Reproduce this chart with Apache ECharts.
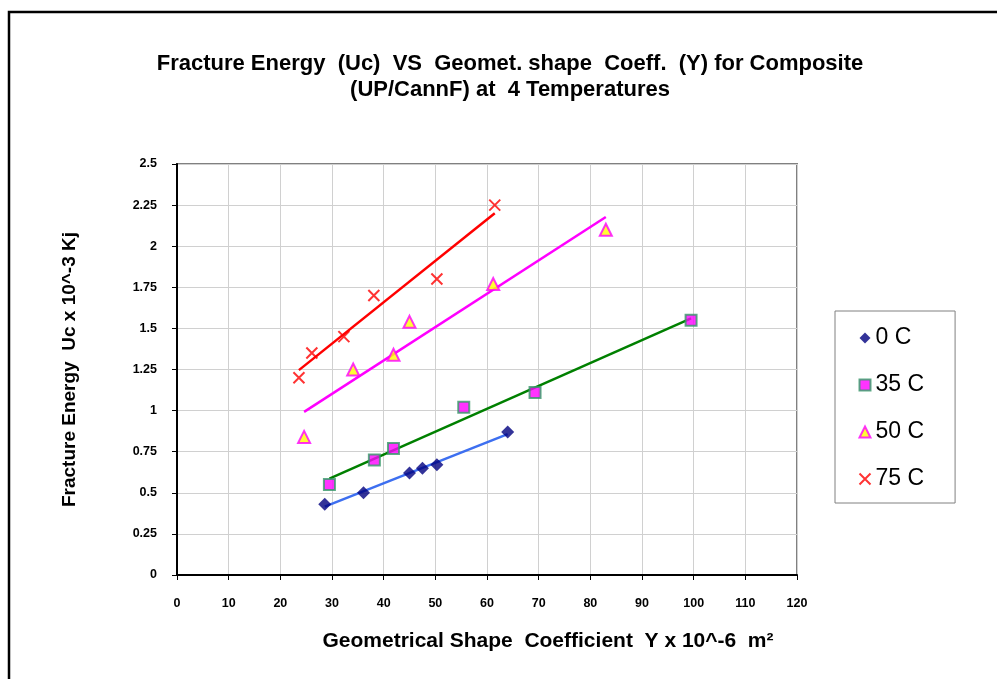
<!DOCTYPE html>
<html>
<head>
<meta charset="UTF-8">
<title>Fracture Energy vs Geometrical Shape Coefficient</title>
<script src="https://cdn.jsdelivr.net/npm/echarts@6/dist/echarts.min.js"></script>
<style>
  html, body { margin: 0; padding: 0; background: #fff; }
  #container { width: 997px; height: 679px; }
</style>
</head>
<body>
<div id="container"></div>
<script>
// data: x = Y (10^-6 m2), y = Uc (10^-3 Kj)
var names = ['0 C', '35 C', '50 C', '75 C'];
var x0 = [28.6, 36.1, 45.0, 47.5, 50.3, 64.0];
var y0 = [0.43, 0.50, 0.62, 0.65, 0.67, 0.87];
var x35 = [29.5, 38.2, 41.9, 55.5, 69.3, 99.5];
var y35 = [0.55, 0.70, 0.77, 1.02, 1.11, 1.55];
var x50 = [24.6, 34.1, 41.9, 45.0, 61.2, 83.0];
var y50 = [0.84, 1.25, 1.34, 1.54, 1.77, 2.10];
var x75 = [23.6, 26.1, 32.3, 38.1, 50.3, 61.5];
var y75 = [1.20, 1.35, 1.45, 1.70, 1.80, 2.25];
var xTicks = [0, 120, 10];
var yTicks = [0, 2.5, 0.25];

var font = 'Arial, "Liberation Sans", sans-serif';

function pairs(xs, ys) {
  return xs.map(function (x, i) { return [x, ys[i]]; });
}

// linear trendline over the range of the points
function trend(xs, ys) {
  var n = xs.length, sx = 0, sy = 0, sxx = 0, sxy = 0;
  for (var i = 0; i < n; i++) {
    sx += xs[i]; sy += ys[i]; sxx += xs[i] * xs[i]; sxy += xs[i] * ys[i];
  }
  var b = (n * sxy - sx * sy) / (n * sxx - sx * sx);
  var a = (sy - b * sx) / n;
  var lo = Math.min.apply(null, xs), hi = Math.max.apply(null, xs);
  return [[lo, a + b * lo], [hi, a + b * hi]];
}

function lineSeries(xs, ys, color) {
  return {
    type: 'line',
    data: trend(xs, ys),
    showSymbol: false,
    symbol: 'none',
    lineStyle: { color: color, width: 2.5 },
    silent: true,
    z: 2
  };
}

var cross = 'path://M0,0L10,10M10,0L0,10';

var myChart = echarts.init(document.getElementById('container'));
var option = {
  backgroundColor: '#fff',
  animation: false,
  title: {
    text: 'Fracture Energy  (Uc)  VS  Geomet. shape  Coeff.  (Y) for Composite\n(UP/CannF) at  4 Temperatures',
    left: 505,
    top: 46,
    textAlign: 'center',
    textStyle: { fontFamily: font, fontSize: 22, fontWeight: 'bold', color: '#000', lineHeight: 26 }
  },
  graphic: [{
    type: 'rect',
    shape: { x: 9, y: 12, width: 1200, height: 1000 },
    style: { fill: 'none', stroke: '#000', lineWidth: 2.5 },
    silent: true
  }],
  legend: {
    orient: 'vertical',
    left: 835,
    top: 311,
    data: names,
    backgroundColor: '#fff',
    borderColor: '#808080',
    borderWidth: 1,
    padding: [15, 31, 12, 22],
    itemGap: 23,
    itemWidth: 11,
    itemHeight: 11,
    textStyle: { fontFamily: font, fontSize: 23, color: '#000', lineHeight: 24 }
  },
  grid: {
    left: 177, right: 200, top: 164, bottom: 104,
    show: true,
    borderColor: '#808080',
    borderWidth: 2
  },
  xAxis: {
    type: 'value',
    min: xTicks[0], max: xTicks[1], interval: xTicks[2],
    name: 'Geometrical Shape  Coefficient  Y x 10^-6  m\u00b2',
    nameLocation: 'middle',
    nameGap: 56,
    nameTextStyle: { fontFamily: font, fontSize: 21, fontWeight: 'bold', color: '#000', padding: [0, 0, 0, 122] },
    axisLine: { show: true, onZero: false, lineStyle: { color: '#000', width: 2 } },
    axisTick: { show: true, length: 5, lineStyle: { color: '#000' } },
    axisLabel: { margin: 22, fontFamily: font, fontSize: 12.5, fontWeight: 'bold', color: '#000' },
    splitLine: { show: true, lineStyle: { color: '#d0d0d0', width: 1 } }
  },
  yAxis: {
    type: 'value',
    min: yTicks[0], max: yTicks[1], interval: yTicks[2],
    name: 'Fracture Energy  Uc x 10^-3 Kj',
    nameLocation: 'middle',
    nameGap: 98,
    nameTextStyle: { fontFamily: font, fontSize: 19, fontWeight: 'bold', color: '#000' },
    axisLine: { show: true, onZero: false, lineStyle: { color: '#000', width: 2 } },
    axisTick: { show: true, length: 5, lineStyle: { color: '#000' } },
    axisLabel: { margin: 20, fontFamily: font, fontSize: 12.5, fontWeight: 'bold', color: '#000' },
    splitLine: { show: true, lineStyle: { color: '#d0d0d0', width: 1 } }
  },
  series: [
    lineSeries(x0, y0, '#3d6ff0'),
    lineSeries(x35, y35, '#008000'),
    lineSeries(x50, y50, '#ff00ff'),
    lineSeries(x75, y75, '#ff0000'),
    {
      name: names[0], type: 'scatter', data: pairs(x0, y0),
      symbol: 'diamond', symbolSize: 13,
      itemStyle: { color: '#000080' }, z: 3
    },
    {
      name: names[1], type: 'scatter', data: pairs(x35, y35),
      symbol: 'rect', symbolSize: 11,
      itemStyle: { color: '#ff00ff', borderColor: '#339966', borderWidth: 2 }, z: 3
    },
    {
      name: names[2], type: 'scatter', data: pairs(x50, y50),
      symbol: 'triangle', symbolSize: 12,
      itemStyle: { color: '#ffff00', borderColor: '#ff00ff', borderWidth: 2 }, z: 3
    },
    {
      name: names[3], type: 'scatter', data: pairs(x75, y75),
      symbol: cross, symbolSize: 11,
      itemStyle: { color: 'none', borderColor: '#ff0000', borderWidth: 2 }, z: 3
    }
  ]
};
myChart.setOption(option);
</script>
</body>
</html>
